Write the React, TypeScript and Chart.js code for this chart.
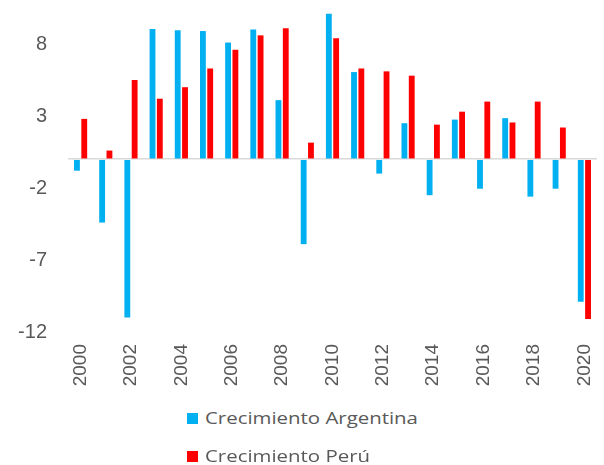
import React, { useEffect, useRef } from "react";
import { Chart, registerables } from "chart.js";

Chart.register(...registerables);

const years = [
  "2000", "2001", "2002", "2003", "2004", "2005", "2006", "2007", "2008", "2009", "2010",
  "2011", "2012", "2013", "2014", "2015", "2016", "2017", "2018", "2019", "2020",
];
const argentina = [
  -0.8, -4.4, -11.0, 9.05, 8.95, 8.9, 8.1, 9.0, 4.1, -5.9, 10.1,
  6.05, -1.0, 2.5, -2.5, 2.75, -2.05, 2.85, -2.6, -2.05, -9.9,
];
const peru = [
  2.8, 0.6, 5.5, 4.2, 5.0, 6.3, 7.6, 8.6, 9.1, 1.15, 8.4,
  6.3, 6.1, 5.8, 2.4, 3.3, 4.0, 2.55, 4.0, 2.2, -11.1,
];
const yTicks = [-12, -7, -2, 3, 8];
const seriesNames = ["Crecimiento Argentina", "Crecimiento Perú"];
const seriesColors = ["#00B0F0", "#FF0000"];

export default function App() {
  const ref = useRef<HTMLCanvasElement | null>(null);

  useEffect(() => {
    if (!ref.current) return;
    const chart = new Chart(ref.current, {
      type: "bar",
      data: {
        labels: years,
        datasets: [
          {
            label: seriesNames[0],
            data: argentina,
            backgroundColor: seriesColors[0],
            categoryPercentage: 0.58,
            barPercentage: 0.8,
          },
          {
            label: seriesNames[1],
            data: peru,
            backgroundColor: seriesColors[1],
            categoryPercentage: 0.58,
            barPercentage: 0.8,
          },
        ],
      },
      options: {
        animation: false,
        responsive: true,
        maintainAspectRatio: false,
        layout: { padding: { top: 8, right: 7, left: 0, bottom: 0 } },
        plugins: { legend: { display: false }, tooltip: { enabled: false } },
        scales: {
          x: {
            grid: { display: false, drawTicks: false },
            border: { display: false },
            afterFit: (s: any) => {
              s.height = 68;
              s.paddingLeft = 0;
              s.paddingRight = 0;
              s.paddingTop = 0;
              s.paddingBottom = 0;
            },
            ticks: {
              autoSkip: false,
              minRotation: 90,
              maxRotation: 90,
              padding: 12,
              color: "#595959",
              font: { family: "'Liberation Sans', Arial, sans-serif", size: 19 },
              callback: (_v: any, i: number) => (i % 2 === 0 ? years[i] : ""),
            },
          },
          y: {
            min: -12,
            max: 10.5,
            afterBuildTicks: (s: any) => {
              s.ticks = [...yTicks, 0].sort((a, b) => a - b).map((v) => ({ value: v }));
            },
            afterFit: (s: any) => {
              s.width = 68;
              s.paddingLeft = 0;
              s.paddingRight = 0;
              s.paddingTop = 0;
              s.paddingBottom = 0;
            },
            grid: {
              drawTicks: false,
              color: (ctx: any) => (ctx.tick && ctx.tick.value === 0 ? "#D9D9D9" : "rgba(0,0,0,0)"),
              lineWidth: 1.5,
            },
            border: { display: false },
            ticks: {
              padding: 21,
              color: "#595959",
              font: { family: "'Liberation Sans', Arial, sans-serif", size: 20 },
              callback: (v: any) => (yTicks.includes(Number(v)) ? String(v) : ""),
            },
          },
        },
      },
    });
    return () => chart.destroy();
  }, []);

  const legendTops = [407, 445];
  return (
    <div style={{ position: "fixed", left: 0, top: 0, width: 604, height: 465, background: "#fff" }}>
      <div style={{ position: "absolute", left: 0, top: 0, width: 604, height: 400 }}>
        <canvas ref={ref} />
      </div>
      {seriesNames.map((name, i) => (
        <div
          key={name}
          style={{
            position: "absolute",
            left: 187,
            top: legendTops[i],
            height: 22,
            display: "flex",
            alignItems: "center",
          }}
        >
          <div style={{ width: 11, height: 11, background: seriesColors[i], marginRight: 7 }} />
          <div
            style={{
              fontFamily: "'Open Sans', sans-serif",
              fontSize: 17,
              color: "#595959",
              transform: "scaleX(1.2)",
              transformOrigin: "left center",
              whiteSpace: "nowrap",
              lineHeight: "22px",
            }}
          >
            {name}
          </div>
        </div>
      ))}
    </div>
  );
}
